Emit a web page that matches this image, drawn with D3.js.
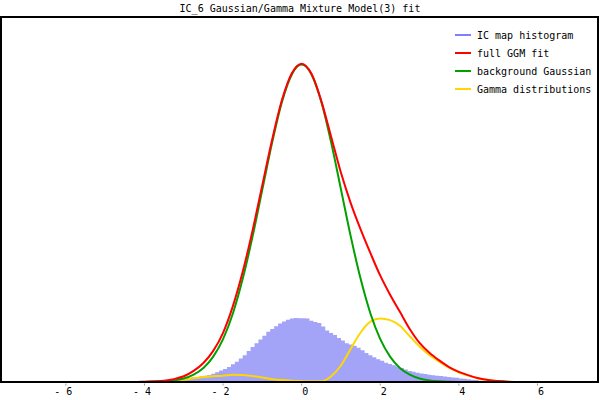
<!DOCTYPE html>
<html><head><meta charset="utf-8">
<script src="https://cdn.jsdelivr.net/npm/d3@7"></script>
<style>
html,body{margin:0;padding:0;background:#fff;}
svg{display:block;}
text{font-family:"DejaVu Sans Mono",monospace;font-size:10px;fill:#000;}
</style></head>
<body>
<script>
// ---- data ----
const titleText = "IC_6 Gaussian/Gamma Mixture Model(3) fit";
const legendLabels = ["IC map histogram", "full GGM fit", "background Gaussian", "Gamma distributions"];
const tickValues = [-6, -4, -2, 0, 2, 4, 6];
const tickLabels = ["- 6", "- 4", "- 2", "0", "2", "4", "6"];

const xGrid = [-7.75,-7.5,-7.25,-7,-6.75,-6.5,-6.25,-6,-5.75,-5.5,-5.25,-5,-4.75,-4.5,-4.25,
  -4,-3.75,-3.5,-3.25,-3,-2.75,-2.5,-2.25,-2,-1.75,-1.5,-1.25,-1,-0.75,-0.5,-0.25,
  0,0.25,0.5,0.75,1,1.25,1.5,1.75,2,2.25,2.5,2.75,3,3.25,3.5,3.75,4,4.25,4.5,4.75,5,
  5.25,5.5,5.75,6,6.25,6.5,6.75,7,7.25,7.5,7.75];

const gaussianValues = [0,0,0,0,0,0,0,0,0,0,0,0,0,0,0,
  0.0003,0.0009,0.0022,0.0051,0.011,0.023,0.044,0.080,0.135,0.216,0.325,0.458,0.607,0.755,0.883,0.969,
  1.0,0.969,0.883,0.755,0.607,0.458,0.325,0.216,0.135,0.080,0.044,0.023,0.011,0.0051,0.0022,0.0009,0.0003,0,0,0,0,
  0,0,0,0,0,0,0,0,0,0,0];

const gammaValues = [0,0,0,0,0,0,0,0,0,0,0,0,0,0,0,
  0,0.001,0.002,0.004,0.007,0.012,0.016,0.018,0.020,0.023,0.022,0.019,0.014,0.009,0.006,0.004,
  0.003,0.002,0.002,0.018,0.052,0.105,0.156,0.190,0.200,0.195,0.177,0.144,0.112,0.085,0.064,0.045,0.030,0.020,0.011,0.006,0.003,
  0.001,0,0,0,0,0,0,0,0,0,0];

const fullFitValues = [0,0,0,0,0,0,0,0,0,0,0,0,0,0,0,
  0.001,0.002,0.004,0.009,0.018,0.035,0.060,0.098,0.155,0.239,0.347,0.477,0.621,0.764,0.889,0.973,
  1.003,0.971,0.885,0.773,0.659,0.563,0.481,0.406,0.335,0.275,0.221,0.167,0.123,0.092,0.068,0.047,0.032,0.021,0.012,0.006,0.003,
  0.001,0,0,0,0,0,0,0,0,0,0];

const histStart = -3.5, histBinWidth = 0.1;
const histValues = [0.005,0.006,0.008,0.009,0.010,0.011,0.013,0.015,0.016,0.018,
  0.020,0.022,0.026,0.031,0.036,0.041,0.047,0.056,0.064,0.074,
  0.084,0.098,0.110,0.122,0.134,0.146,0.158,0.167,0.176,0.184,
  0.191,0.196,0.200,0.202,0.201,0.201,0.200,0.193,0.189,0.186,
  0.175,0.162,0.154,0.148,0.139,0.131,0.122,0.118,0.114,0.108,
  0.100,0.091,0.084,0.078,0.072,0.067,0.061,0.057,0.053,0.049,
  0.044,0.039,0.035,0.032,0.029,0.027,0.025,0.023,0.021,0.020,
  0.019,0.017,0.016,0.014,0.013,0.011,0.010,0.009,0.007,0.006,
  0.004,0.003,0.002,0.001];

// ---- layout ----
const W = 600, H = 400;
const plot = {left: 1, right: 598, top: 17, bottom: 382};
const svg = d3.select("body").append("svg").attr("width", W).attr("height", H);

const x = d3.scaleLinear().domain([-7.65, 7.54]).range([plot.left, plot.right]);
const y = d3.scaleLinear().domain([0, 1.15]).range([plot.bottom, plot.top]);

svg.append("defs").append("clipPath").attr("id", "clip")
  .append("rect").attr("x", plot.left).attr("y", plot.top - 2)
  .attr("width", plot.right - plot.left).attr("height", plot.bottom - plot.top + 4);

const g = svg.append("g").attr("clip-path", "url(#clip)");

// histogram as a stepped area
const histPts = histValues.map((v, i) => [histStart + i * histBinWidth, v]);
histPts.push([histStart + histValues.length * histBinWidth, histValues[histValues.length - 1]]);
const histArea = d3.area().x(d => x(d[0])).y0(y(0)).y1(d => y(d[1])).curve(d3.curveStepAfter);
g.append("path").datum(histPts).attr("d", histArea).attr("fill", "#a3a3f7");

const line = d3.line().x(d => x(d[0])).y(d => y(d[1])).curve(d3.curveMonotoneX);
const series = [
  {vals: gammaValues, color: "#ffd700"},
  {vals: gaussianValues, color: "#00a000"},
  {vals: fullFitValues, color: "#ff0000"}
];
series.forEach(s => {
  g.append("path").datum(xGrid.map((xv, i) => [xv, s.vals[i]]))
    .attr("d", line).attr("fill", "none")
    .attr("stroke", s.color).attr("stroke-width", 2);
});

// frame
svg.append("rect").attr("x", plot.left).attr("y", plot.top)
  .attr("width", plot.right - plot.left).attr("height", plot.bottom - plot.top)
  .attr("fill", "none").attr("stroke", "#000").attr("stroke-width", 2);

// x ticks
const tk = svg.append("g");
tickValues.forEach((v, i) => {
  tk.append("line").attr("x1", x(v)).attr("x2", x(v))
    .attr("y1", plot.bottom + 1.5).attr("y2", plot.bottom + 3.5)
    .attr("stroke", "#999").attr("stroke-width", 1);
  tk.append("text").attr("x", x(v) + 6.5).attr("y", 395)
    .attr("text-anchor", "end").attr("xml:space", "preserve")
    .text(tickLabels[i]);
});

// title
svg.append("text").attr("x", 300).attr("y", 12).attr("text-anchor", "middle").text(titleText);

// legend
const legendColors = ["#8080ff", "#ff0000", "#00a000", "#ffd700"];
legendLabels.forEach((lab, i) => {
  const ly = 35 + i * 18;
  svg.append("line").attr("x1", 455).attr("x2", 471).attr("y1", ly).attr("y2", ly)
    .attr("stroke", legendColors[i]).attr("stroke-width", 2);
  svg.append("text").attr("x", 477).attr("y", ly + 4).text(lab);
});
</script>
</body></html>
